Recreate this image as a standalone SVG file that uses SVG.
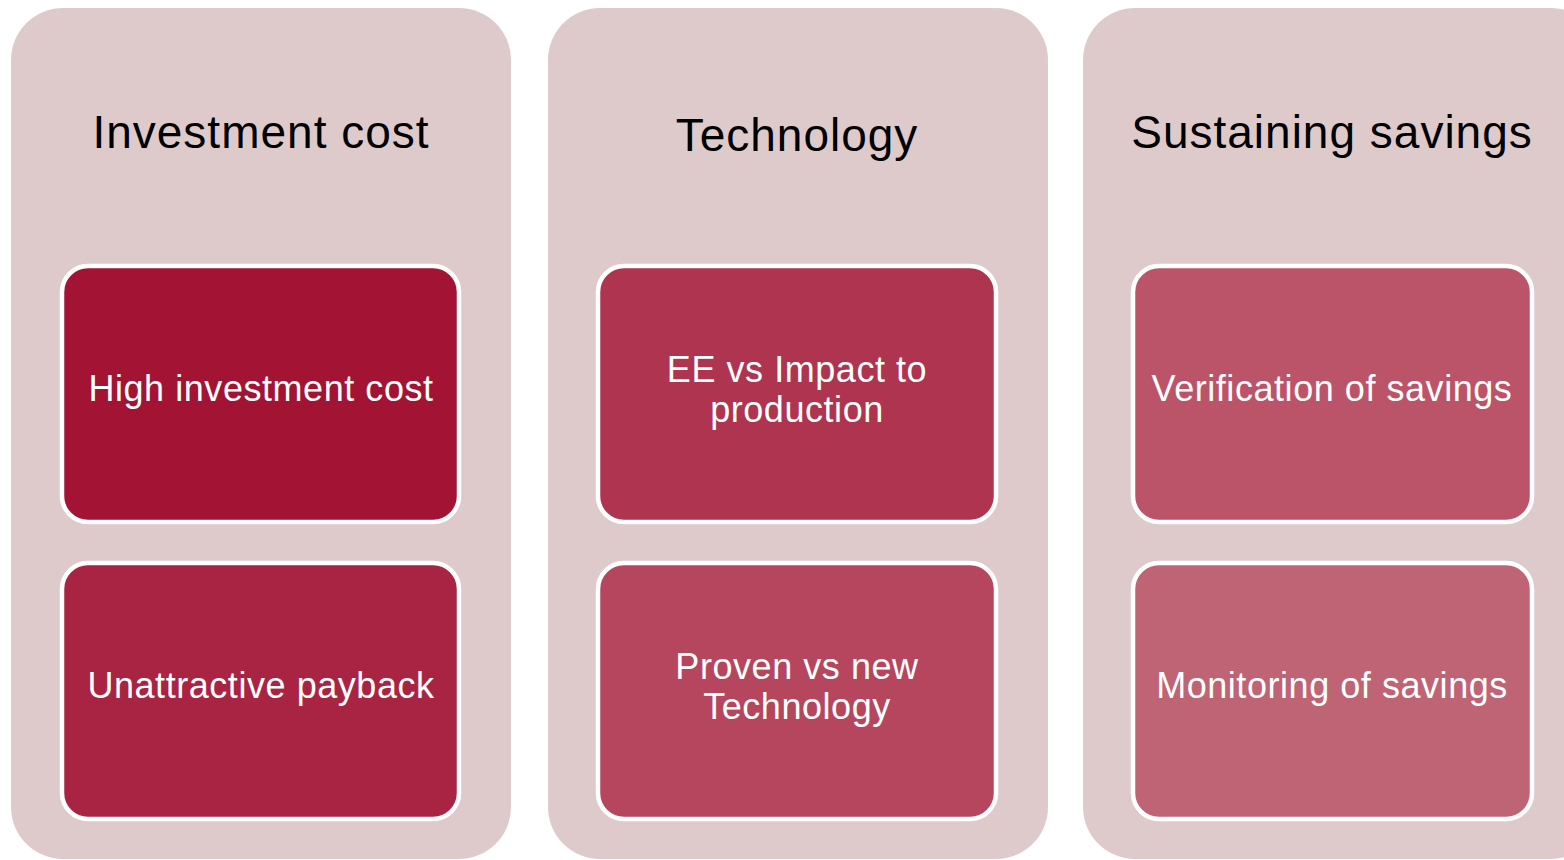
<svg xmlns="http://www.w3.org/2000/svg" width="1564" height="860" viewBox="0 0 1564 860">
<style>
.panel{fill:#dfcacb}
.box{stroke:#ffffff;stroke-width:4.5}
.title{font-family:"Liberation Sans",Arial,sans-serif;font-size:46px;letter-spacing:1px;fill:#000000;text-anchor:middle}
.label{font-family:"Liberation Sans",Arial,sans-serif;font-size:36px;letter-spacing:0.55px;fill:#ffffff;text-anchor:middle}
</style>
<rect width="1564" height="860" fill="#ffffff"/>
<g id="panel-investment">
<rect class="panel" x="11" y="8" width="500" height="851" rx="52"/>
<text class="title" x="261" y="148">Investment cost</text>
</g>
<g id="panel-technology">
<rect class="panel" x="548" y="8" width="500" height="851" rx="52"/>
<text class="title" x="797" y="151">Technology</text>
</g>
<g id="panel-sustaining">
<rect class="panel" x="1083" y="8" width="520" height="851" rx="52"/>
<text class="title" x="1332" y="148">Sustaining savings</text>
</g>
<g id="node-high-investment">
<rect class="box" x="62" y="266" width="397" height="256" rx="26" fill="#a31434"/>
<text class="label" x="261" y="401">High investment cost</text>
</g>
<g id="node-unattractive">
<rect class="box" x="62" y="563" width="397" height="256" rx="26" fill="#a92442"/>
<text class="label" x="261" y="698">Unattractive payback</text>
</g>
<g id="node-ee-impact">
<rect class="box" x="598" y="266" width="398" height="256" rx="26" fill="#ae3450"/>
<text class="label" x="797" y="382">EE vs Impact to</text>
<text class="label" x="797" y="422">production</text>
</g>
<g id="node-proven">
<rect class="box" x="598" y="563" width="398" height="256" rx="26" fill="#b5465e"/>
<text class="label" x="797" y="679">Proven vs new</text>
<text class="label" x="797" y="719">Technology</text>
</g>
<g id="node-verification">
<rect class="box" x="1133" y="266" width="399" height="256" rx="26" fill="#bc5469"/>
<text class="label" x="1332" y="401">Verification of savings</text>
</g>
<g id="node-monitoring">
<rect class="box" x="1133" y="563" width="399" height="256" rx="26" fill="#bf6475"/>
<text class="label" x="1332" y="698">Monitoring of savings</text>
</g>
<g id="connectors"></g>
</svg>
